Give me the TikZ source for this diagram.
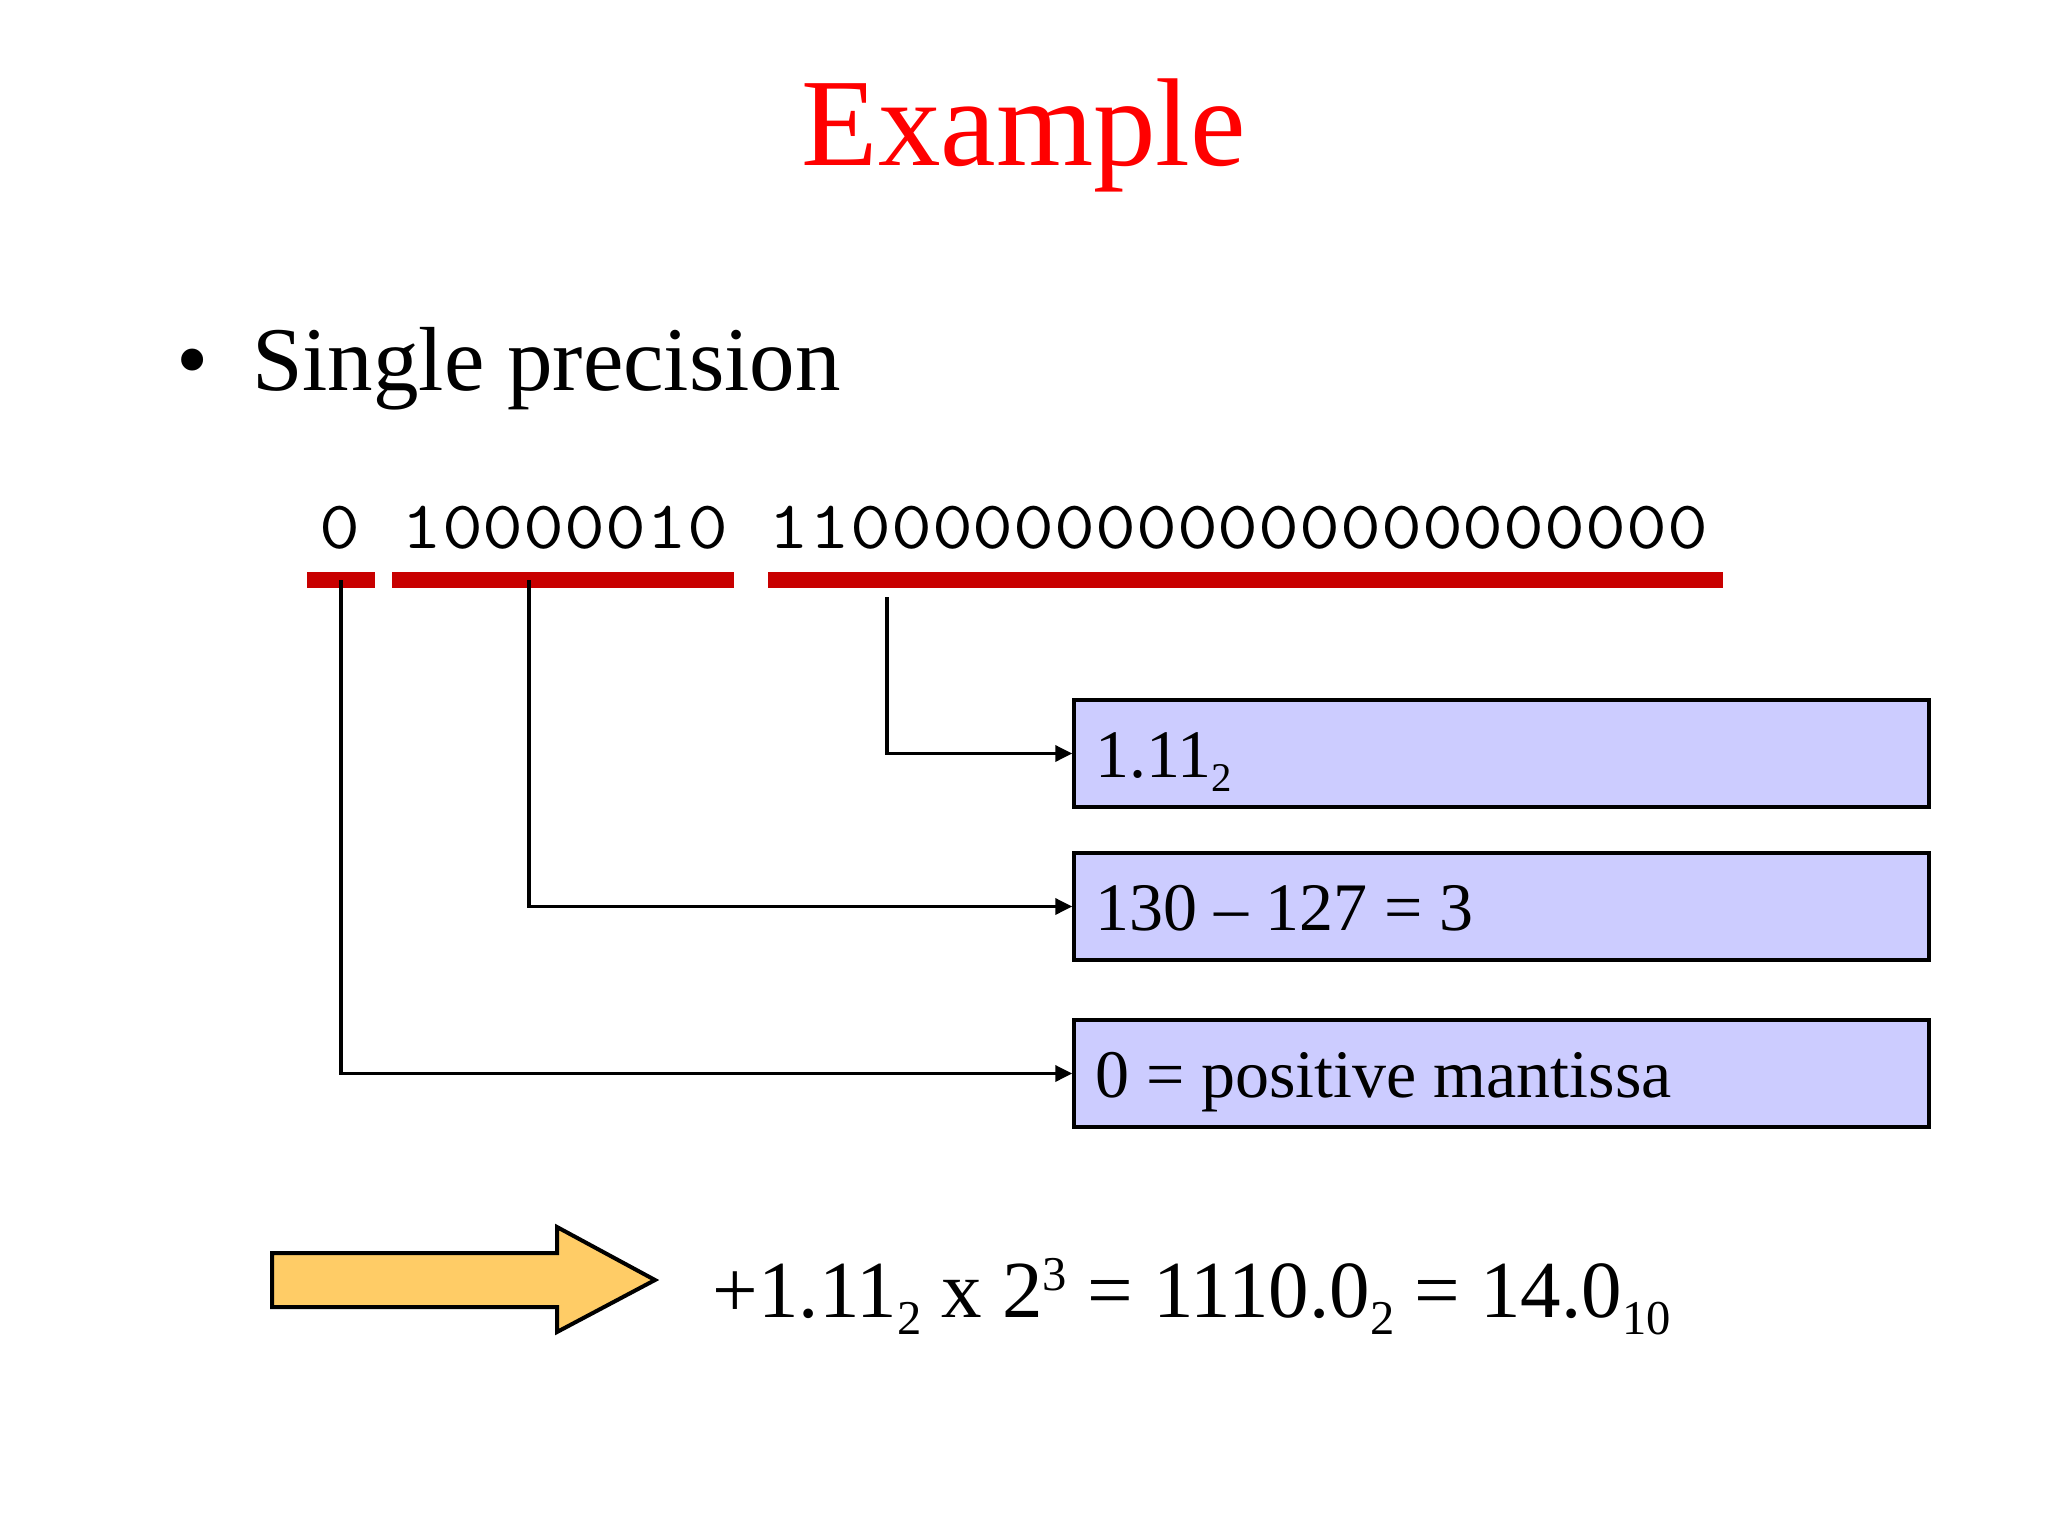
\documentclass[tikz,border=0pt]{standalone}
\usepackage{fontspec}
\setmainfont{Liberation Serif}
\usetikzlibrary{arrows.meta}
\definecolor{titlered}{HTML}{FF0000}
\definecolor{barred}{HTML}{C80000}
\definecolor{boxfill}{HTML}{CCCCFF}
\definecolor{arrowfill}{HTML}{FFCC66}
\newcommand\sbx[1]{\raisebox{-0.22em}{\scalebox{0.6}{#1}}}
\newcommand\spx[1]{\raisebox{0.33em}{\scalebox{0.6}{#1}}}
\newcommand\boxline[1]{\makebox[813pt][l]{#1}}
\newcommand\bitline[1]{\scalebox{1.166}[1]{\ttfamily\fontsize{68}{80}\selectfont #1}}
\tikzset{
  redbar/.style={fill=barred, draw=none, inner sep=0pt, outer sep=0pt, minimum height=16pt},
  infobox/.style={draw=black, line width=3.5pt, fill=boxfill, minimum width=855pt,
    minimum height=107pt, inner xsep=21pt, inner ysep=0pt,
    font=\fontsize{68}{82}\selectfont, text height=47pt, text depth=0pt},
  conn/.style={draw=black, line width=3.5pt, -{Triangle[length=17pt,width=16pt]}},
  bigarrow/.style={draw=black, line width=4pt, fill=arrowfill, line join=miter},
  txt/.style={inner sep=0pt, outer sep=0pt}
}
\begin{document}
\begin{tikzpicture}[x=1pt,y=-1pt]
\useasboundingbox (0,0) rectangle (2048,1536);
\fill[white] (0,0) rectangle (2048,1536);

% title
\node[txt, anchor=base, text=titlered, font=\fontsize{125}{150}\selectfont] (title) at (1024,165) {Example};

% bullet line
\node[txt, anchor=base west, font=\fontsize{92}{110}\selectfont] (bullet) at (176,390) {•};
\node[txt, anchor=base west, font=\fontsize{91}{110}\selectfont] (single) at (252,390) {Single precision};

% bit string
\node[txt, anchor=base west] (bits) at (319.6,548) {\bitline{0 10000010 11000000000000000000000}};

% red bars
\node[redbar, minimum width=68pt] (signbar) at (341,580) {};
\node[redbar, minimum width=342pt] (expbar) at (563,580) {};
\node[redbar, minimum width=955pt] (mantbar) at (1245.5,580) {};

% boxes
\node[infobox] (box1) at (1501.5,753.5) {\boxline{1.11\sbx{2}}};
\node[infobox] (box2) at (1501.5,906.5) {\boxline{130 – 127 = 3}};
\node[infobox] (box3) at (1501.5,1073.5) {\boxline{0 = positive mantissa}};

% connectors
\coordinate (s0) at (341,580);
\coordinate (e0) at (529,580);
\coordinate (m0) at (887,597);
\draw[conn] (m0) |- (box1.west);
\draw[conn] (e0) |- (box2.west);
\draw[conn] (s0) |- (box3.west);

% bottom block arrow
\draw[bigarrow] (272,1253) -- (557,1253) -- (557,1227) -- (655,1280) -- (557,1332) -- (557,1307) -- (272,1307) -- cycle;

% result
\node[txt, anchor=base west, font=\fontsize{81}{97}\selectfont] (result) at (712.6,1317)
  {+1.11\sbx{2} x 2\spx{3} = 1110.0\sbx{2} = 14.0\sbx{10}};
\end{tikzpicture}
\end{document}
